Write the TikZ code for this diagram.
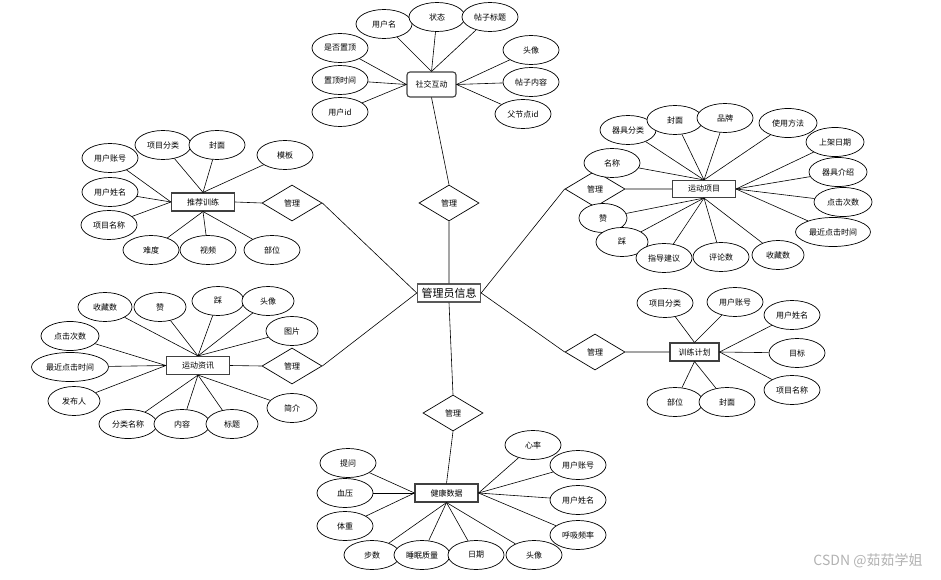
\documentclass[tikz,border=0pt]{standalone}
\usepackage{fontspec}
\setmainfont{Noto Sans CJK SC}
\usetikzlibrary{shapes.geometric}

\begin{document}
\begin{tikzpicture}[x=1pt,y=-1pt,line width=0.6pt,
    entity/.style={draw=black!75, line width=1.1pt, fill=white, minimum width=63pt, minimum height=18pt, inner sep=0pt, font=\fontsize{8}{9}\selectfont},
    rel/.style={draw, diamond, fill=white, line width=0.7pt, aspect=1.6, minimum width=60pt, minimum height=36pt, inner sep=0pt, font=\fontsize{8}{9}\selectfont},
    attr/.style={draw, ellipse, fill=white, line width=0.7pt, minimum width=56pt, minimum height=29pt, inner sep=0pt, font=\fontsize{8}{9}\selectfont}]
  \useasboundingbox (0,0) rectangle (941,580);
  % entities
  \node[entity, draw=black!65, line width=1.4pt, font=\fontsize{11}{12}\selectfont] (admin) at (449,293) {管理员信息};
  \node[entity, rounded corners=3pt, minimum width=49pt, minimum height=25pt] (social) at (431.5,84.5) {社交互动};
  \node[entity] (tuijian) at (203,202) {推荐训练};
  \node[entity] (zixun) at (198,365.5) {运动资讯};
  \node[entity, minimum height=17pt] (xiangmu) at (704,189) {运动项目};
  \node[entity, minimum width=49pt] (jihua) at (694.5,352) {训练计划};
  \node[entity] (jiankang) at (446.5,493) {健康数据};
  % relations
  \node[rel] (r1) at (449,203) {管理};
  \node[rel] (r2) at (292,203) {管理};
  \node[rel] (r3) at (292,366) {管理};
  \node[rel] (r4) at (595,189) {管理};
  \node[rel] (r5) at (595,352) {管理};
  \node[rel] (r6) at (453,413) {管理};
  \draw (admin.north) -- (r1.south) (r1.north) -- (social.south);
  \draw (admin.west) -- (r2.east) (r2.west) -- (tuijian.east);
  \draw (admin.west) -- (r3.east) (r3.west) -- (zixun.east);
  \draw (admin.east) -- (r4.west) (r4.east) -- (xiangmu.west);
  \draw (admin.east) -- (r5.west) (r5.east) -- (jihua.west);
  \draw (admin.south) -- (r6.north) (r6.south) -- (jiankang.north);

  % 社交互动
  \foreach \n/\x/\y/\t in {s1/384/24/用户名, s2/437/17/状态, s3/490/17/帖子标题,
      s4/340/48/是否置顶, s5/340/80/置顶时间, s6/340/112/用户id,
      s7/531/50/头像, s8/531/82/帖子内容, s9/523/114/父节点id}
    \node[attr] (\n) at (\x,\y) {\t};
  \foreach \n in {s1,s2,s3} \draw (social.north) -- (\n);
  \foreach \n in {s4,s5,s6} \draw (social.west) -- (\n);
  \foreach \n in {s7,s8,s9} \draw (social.east) -- (\n);

  % 推荐训练
  \foreach \n/\x/\y/\t in {t1/110/158/用户账号, t2/163/145/项目分类, t3/217/145/封面,
      t4/285/155/模板, t5/110/192/用户姓名, t6/109/225/项目名称,
      t7/151/250/难度, t8/208/250/视频, t9/272/250/部位}
    \node[attr] (\n) at (\x,\y) {\t};
  \foreach \n in {t1,t5,t6} \draw (tuijian.west) -- (\n);
  \foreach \n in {t2,t3,t4} \draw (tuijian.north) -- (\n);
  \foreach \n in {t7,t8,t9} \draw (tuijian.south) -- (\n);

  % 运动项目
  \foreach \n/\x/\y/\w/\t in {x1/628/130/56/器具分类, x2/675/120/56/封面, x3/725/118/56/品牌,
      x4/788/123/58/使用方法, x5/835/142/58/上架日期, x6/612/163/56/名称,
      x7/838/172/58/器具介绍, x8/843/202/58/点击次数, x9/833/232/75/最近点击时间,
      x10/603/218/48/赞, x11/622/242/52/踩, x12/664/258/56/指导建议,
      x13/721/257/56/评论数, x14/778/255/52/收藏数}
    \node[attr, minimum width=\w pt] (\n) at (\x,\y) {\t};
  \foreach \n in {x1,x2,x3,x4,x6} \draw (xiangmu.north) -- (\n);
  \foreach \n in {x5,x7,x8,x9} \draw (xiangmu.east) -- (\n);
  \foreach \n in {x10,x11,x12,x13,x14} \draw (xiangmu.south) -- (\n);

  % 运动资讯
  \foreach \n/\x/\y/\w/\t in {z1/105/307/54/收藏数, z2/160/307/52/赞, z3/218/301/52/踩,
      z4/268/301/52/头像, z5/292/331/52/图片, z6/70/336/58/点击次数,
      z7/70/367/77/最近点击时间, z8/74/401/52/发布人, z9/128/424/58/分类名称,
      z10/182/424/56/内容, z11/232/424/52/标题, z12/292/408/50/简介}
    \node[attr, minimum width=\w pt] (\n) at (\x,\y) {\t};
  \foreach \n in {z1,z2,z3,z4,z5} \draw (zixun.north) -- (\n);
  \foreach \n in {z6,z7,z8} \draw (zixun.west) -- (\n);
  \foreach \n in {z9,z10,z11,z12} \draw (zixun.south) -- (\n);

  % 训练计划
  \foreach \n/\x/\y/\t in {j1/665/303/项目分类, j2/735/302/用户账号, j3/792/315/用户姓名,
      j4/797/353/目标, j5/792/390/项目名称, j6/675/402/部位, j7/727/402/封面}
    \node[attr] (\n) at (\x,\y) {\t};
  \foreach \n in {j1,j2} \draw (jihua.north) -- (\n);
  \foreach \n in {j3,j4,j5} \draw (jihua.east) -- (\n);
  \foreach \n in {j6,j7} \draw (jihua.south) -- (\n);

  % 健康数据
  \foreach \n/\x/\y/\t in {h1/348/463/提问, h2/345/493/血压, h3/345/526/体重,
      h4/372/555/步数, h5/422/555/睡眠质量, h6/476/555/日期, h7/534/555/头像,
      h8/533/445/心率, h9/578/465/用户账号, h10/578/500/用户姓名, h11/578/535/呼吸频率}
    \node[attr] (\n) at (\x,\y) {\t};
  \foreach \n in {h1,h2,h3} \draw (jiankang.west) -- (\n);
  \foreach \n in {h4,h5,h6,h7} \draw (jiankang.south) -- (\n);
  \foreach \n in {h8,h9,h10,h11} \draw (jiankang.east) -- (\n);

  \node[text=black!30, font=\fontsize{14}{16}\selectfont] (mark) at (868,561) {CSDN @茹茹学姐};
\end{tikzpicture}
\end{document}
